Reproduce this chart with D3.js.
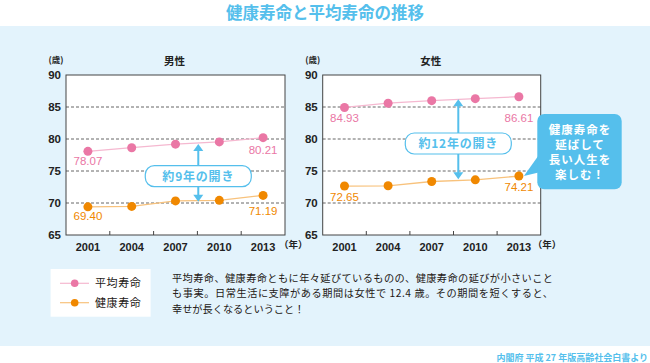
<!DOCTYPE html>
<html><head><meta charset="utf-8">
<script src="https://cdn.jsdelivr.net/npm/d3@7"></script>
<style>body{margin:0;background:#fff}svg{display:block}</style>
</head><body>
<svg id="c" width="650" height="363"></svg>
<script>
const years = ["2001","2004","2007","2010","2013"];
const maleAvg = [78.07, 78.64, 79.19, 79.55, 80.21];
const maleHealthy = [69.40, 69.47, 70.33, 70.42, 71.19];
const femaleAvg = [84.93, 85.59, 85.99, 86.30, 86.61];
const femaleHealthy = [72.65, 72.69, 73.36, 73.62, 74.21];
const yTicks = [65, 70, 75, 80, 85, 90];
const seriesNames = ["平均寿命", "健康寿命"];
const gaps = ["約9年の開き", "約12年の開き"];
const panelTitles = ["男性", "女性"];

const JP = "'Noto Sans CJK JP', sans-serif";
const NUM = "'Liberation Sans', Arial, sans-serif";
const BLUE = "#55bfec";
const PINK = "#ea77a5", PINKL = "#f5b8d0";
const ORG = "#f08800", ORGL = "#f8c27c";

const svg = d3.select("#c");
svg.append("rect").attr("x",0).attr("y",26).attr("width",650).attr("height",320).attr("fill","#e3f3fc");
svg.append("text").attr("x",325).attr("y",19).attr("text-anchor","middle")
  .attr("font-family",JP).attr("font-weight","bold").attr("font-size",16.5).attr("fill",BLUE)
  .text("健康寿命と平均寿命の推移");

function panel(cfg){
  const {left,right,avg,healthy,title,gap,arrowF,lab} = cfg;
  const top=75,bottom=235;
  const x = d3.scaleBand().domain(years).range([left,right]);
  const y = d3.scaleLinear().domain([65,90]).range([bottom,top]);
  const g = svg.append("g");
  g.append("rect").attr("x",left).attr("y",top).attr("width",right-left).attr("height",bottom-top)
    .attr("fill","#fff");
  g.selectAll(".grid").data(yTicks.filter(d=>d>65&&d<90)).join("line")
    .attr("x1",left).attr("x2",right).attr("y1",d=>y(d)).attr("y2",d=>y(d))
    .attr("stroke","#555").attr("stroke-width",0.9).attr("stroke-dasharray","3,2");
  const ya = g.append("g").attr("transform",`translate(${left},0)`)
    .call(d3.axisLeft(y).tickValues(yTicks).tickSize(0).tickPadding(5));
  ya.select(".domain").remove();
  ya.selectAll("text").attr("font-family",NUM).attr("font-weight","bold").attr("font-size",11.5).attr("fill","#222");
  const xa = g.append("g").attr("transform",`translate(0,${bottom})`)
    .call(d3.axisBottom(x).tickSize(0).tickPadding(8));
  xa.select(".domain").remove();
  xa.selectAll("text").attr("font-family",NUM).attr("font-weight","bold").attr("font-size",11).attr("fill","#222");
  g.selectAll(".xt").data(years.slice(1)).join("line")
    .attr("x1",d=>x(d)).attr("x2",d=>x(d)).attr("y1",bottom).attr("y2",bottom-4)
    .attr("stroke","#444").attr("stroke-width",1);
  g.append("rect").attr("x",left).attr("y",top).attr("width",right-left).attr("height",bottom-top)
    .attr("fill","none").attr("stroke","#444").attr("stroke-width",1);
  g.append("text").attr("x",right+(cfg.unitDx)).attr("y",bottom+13).attr("font-family",JP)
    .attr("font-size",9.5).attr("fill","#222").attr("font-weight","bold").text("（年）");
  g.append("text").attr("x",left-10).attr("y",63).attr("text-anchor","middle").attr("font-family",JP)
    .attr("font-size",8.5).attr("font-weight","bold").attr("fill","#222").text("(歳)");
  g.append("text").attr("x",(left+right)/2-1).attr("y",65).attr("text-anchor","middle").attr("font-family",JP)
    .attr("font-size",10.5).attr("font-weight","bold").attr("fill","#222").text(title);

  const cx = d=>x(d)+x.bandwidth()/2;
  const line = d3.line().x((d,i)=>cx(years[i])).y(d=>y(d));
  [[avg,PINKL,PINK],[healthy,ORGL,ORG]].forEach(([data,lc,pc])=>{
    g.append("path").attr("d",line(data)).attr("fill","none").attr("stroke",lc).attr("stroke-width",1.3);
    g.selectAll(null).data(data).join("circle").attr("cx",(d,i)=>cx(years[i])).attr("cy",d=>y(d))
      .attr("r",4.5).attr("fill",pc);
  });
  const labs = [
    [avg,0,PINK,lab[0]],[avg,4,PINK,lab[1]],[healthy,0,ORG,lab[2]],[healthy,4,ORG,lab[3]]
  ];
  labs.forEach(([data,i,c,dy])=>{
    g.append("text").attr("x",cx(years[i])).attr("y",y(data[i])+dy).attr("text-anchor","middle")
      .attr("font-family",NUM).attr("font-size",11.5).attr("fill",c).text(data[i].toFixed(2));
  });
  const ax = x("2010") + x.bandwidth()*arrowF;
  const yt = y(cfg.arrowTop), yb = y(cfg.arrowBot);
  g.append("line").attr("x1",ax).attr("x2",ax).attr("y1",yt+5).attr("y2",yb-5)
    .attr("stroke",BLUE).attr("stroke-width",2);
  g.append("path").attr("d",`M${ax},${yt}L${ax-5},${yt+7}L${ax+5},${yt+7}Z`).attr("fill",BLUE);
  g.append("path").attr("d",`M${ax},${yb}L${ax-5},${yb-7}L${ax+5},${yb-7}Z`).attr("fill",BLUE);
  const by = y(cfg.boxVal);
  g.append("rect").attr("x",ax-53).attr("y",by-10.5).attr("width",106).attr("height",21).attr("rx",9)
    .attr("fill","#fff").attr("stroke",BLUE).attr("stroke-width",1.2);
  g.append("text").attr("x",ax).attr("y",by+4.5).attr("text-anchor","middle").attr("font-family",JP)
    .attr("font-weight","bold").attr("font-size",12).attr("fill",BLUE).attr("letter-spacing",0.8).text(gap);
  return {x,y,cx};
}

panel({left:66,right:285,avg:maleAvg,healthy:maleHealthy,title:panelTitles[0],gap:gaps[0],
  arrowF:0.02,arrowTop:79.2,arrowBot:70.2,boxVal:74.2,lab:[14,16,13.5,20],unitDx:-6});
const fp = panel({left:322.7,right:540.7,avg:femaleAvg,healthy:femaleHealthy,title:panelTitles[1],gap:gaps[1],
  arrowF:0.11,arrowTop:86.2,arrowBot:73.7,boxVal:79.3,lab:[14.5,25,15,15],unitDx:-8});

const tipX = fp.cx("2013")+5, tipY = fp.y(femaleHealthy[4]);
svg.append("path").attr("d",`M${tipX},${tipY}L541,152L549,170Z`).attr("fill",BLUE);
svg.append("rect").attr("x",537.3).attr("y",114).attr("width",84.4).attr("height",75.3).attr("rx",7).attr("fill",BLUE);
["健康寿命を","延ばして","長い人生を","楽しむ！"].forEach((t,i)=>{
  svg.append("text").attr("x",580).attr("y",134+i*15).attr("text-anchor","middle").attr("font-family",JP)
    .attr("font-weight","bold").attr("font-size",11.5).attr("letter-spacing",1).attr("fill","#fff").text(t);
});

svg.append("rect").attr("x",50.6).attr("y",269).attr("width",100).attr("height",47.7).attr("fill","#fff");
[[PINKL,PINK],[ORGL,ORG]].forEach(([lc,pc],i)=>{
  const ly = 283.3 + i*19.4;
  svg.append("line").attr("x1",60).attr("x2",89).attr("y1",ly).attr("y2",ly).attr("stroke",lc).attr("stroke-width",1.2);
  svg.append("circle").attr("cx",74.7).attr("cy",ly).attr("r",3.8).attr("fill",pc);
  svg.append("text").attr("x",95).attr("y",ly+4).attr("font-family",JP).attr("font-size",11)
    .attr("fill","#231815").attr("letter-spacing",0.6).text(seriesNames[i]);
});

const para = ["平均寿命、健康寿命ともに年々延びているものの、健康寿命の延びが小さいこと",
  "も事実。日常生活に支障がある期間は女性で 12.4 歳。その期間を短くすると、",
  "幸せが長くなるということ！"];
para.forEach((t,i)=>{
  const tx = svg.append("text").attr("x",172).attr("y",282+i*15.3).attr("font-family",JP)
    .attr("font-size",10.2).attr("fill","#231815").text(t);
  if(i<2) tx.attr("textLength",381).attr("lengthAdjust","spacing");
});

svg.append("text").attr("x",648).attr("y",361).attr("text-anchor","end").attr("font-family",JP)
  .attr("font-size",9).attr("font-weight","bold").attr("fill",BLUE).text("内閣府 平成 27 年版高齢社会白書より");
</script>
</body></html>
